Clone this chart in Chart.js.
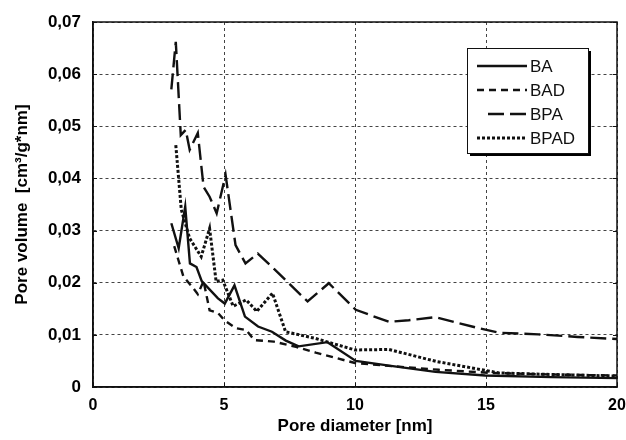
<!DOCTYPE html>
<html>
<head>
<meta charset="utf-8">
<script src="https://cdn.jsdelivr.net/npm/chart.js@4.4.1/dist/chart.umd.min.js"></script>
<style>
  html, body { margin: 0; padding: 0; background: #fff; }
  #wrap { width: 626px; height: 440px; }
</style>
</head>
<body>
<div id="wrap"><canvas id="poreChart"></canvas></div>
<script>
/*
  Pore size distribution: four samples.
*/
const baX = [2.99, 3.27, 3.52, 3.7, 3.95, 4.15, 4.77, 5.03, 5.4, 5.8, 6.3, 6.83, 7.36, 7.85, 8.95, 10.03, 11.3, 13.07, 14.97, 17.5, 20];
const baY = [0.0314, 0.0266, 0.0346, 0.0237, 0.023, 0.0203, 0.017, 0.016, 0.0195, 0.0135, 0.0116, 0.0106, 0.0089, 0.0078, 0.0086, 0.005, 0.0041, 0.0029, 0.0022, 0.0019, 0.0017];

const badX = [3.1, 3.25, 3.45, 3.85, 4.0, 4.22, 4.45, 4.77, 5.02, 5.45, 5.85, 6.15, 6.9, 7.75, 8.5, 10.0, 11.4, 13.2, 15.2, 17.5, 20];
const badY = [0.027, 0.0245, 0.0212, 0.0188, 0.0178, 0.0203, 0.0147, 0.0142, 0.0128, 0.0113, 0.0109, 0.009, 0.0087, 0.0077, 0.0066, 0.0046, 0.004, 0.0033, 0.0027, 0.0024, 0.0022];

const bpaX = [2.99, 3.16, 3.35, 3.54, 3.69, 4.0, 4.22, 4.45, 4.72, 5.06, 5.44, 5.82, 6.29, 6.92, 8.19, 9.0, 10.03, 11.29, 12.05, 13.07, 14.7, 15.5, 17, 18.5, 20];
const bpaY = [0.0571, 0.0662, 0.0483, 0.0493, 0.0455, 0.0487, 0.0384, 0.0365, 0.0333, 0.0407, 0.0272, 0.0237, 0.0256, 0.0226, 0.0164, 0.0199, 0.0148, 0.0125, 0.0128, 0.0134, 0.0113, 0.0104, 0.0101, 0.0096, 0.0092];

const bpadX = [3.16, 3.37, 3.69, 4.13, 4.45, 4.7, 4.95, 5.35, 5.85, 6.25, 6.85, 7.35, 8.5, 10.0, 11.3, 13.1, 15.5, 17.5, 20];
const bpadY = [0.0464, 0.034, 0.0285, 0.025, 0.0304, 0.0202, 0.0205, 0.0155, 0.0167, 0.0145, 0.018, 0.0106, 0.0093, 0.0071, 0.0072, 0.0049, 0.0027, 0.0024, 0.0021];

const seriesLabels = ["BA", "BAD", "BPA", "BPAD"];
const xTicks = [0, 5, 10, 15, 20];
const yTicks = [0, 0.01, 0.02, 0.03, 0.04, 0.05, 0.06, 0.07];

const INK = "#111";
const FAMILY = "'Liberation Sans', Arial, sans-serif";

function toPoints(xs, ys) {
  return xs.map((x, i) => ({ x: x, y: ys[i] }));
}

function lineSet(label, xs, ys, dash, width) {
  return {
    label: label,
    data: toPoints(xs, ys),
    borderColor: INK,
    backgroundColor: INK,
    borderWidth: width,
    borderDash: dash,
    borderCapStyle: "butt",
    borderJoinStyle: "miter",
    pointRadius: 0,
    tension: 0,
    fill: false,
  };
}

// closes the frame on top/right and adds the short inner tick marks
const framePlugin = {
  id: "frame",
  afterDatasetsDraw(chart) {
    const { ctx, chartArea: a, scales } = chart;
    ctx.save();
    ctx.strokeStyle = INK;
    ctx.lineWidth = 1.5;
    ctx.setLineDash([]);
    ctx.strokeRect(a.left, a.top, a.right - a.left, a.bottom - a.top);
    ctx.lineWidth = 1;
    yTicks.forEach((v) => {
      const y = Math.round(scales.y.getPixelForValue(v)) + 0.5;
      ctx.beginPath();
      ctx.moveTo(a.left, y); ctx.lineTo(a.left + 4, y);
      ctx.moveTo(a.right, y); ctx.lineTo(a.right - 4, y);
      ctx.stroke();
    });
    xTicks.forEach((v) => {
      const x = Math.round(scales.x.getPixelForValue(v)) + 0.5;
      ctx.beginPath();
      ctx.moveTo(x, a.bottom); ctx.lineTo(x, a.bottom - 4);
      ctx.stroke();
    });
    ctx.restore();
  },
};

// boxed legend with shadow, placed inside the plot
const boxLegendPlugin = {
  id: "boxLegend",
  afterDraw(chart) {
    const { ctx } = chart;
    const left = 467, top = 48, w = 121, h = 105;
    ctx.save();
    ctx.fillStyle = "#000";
    ctx.fillRect(left + 3, top + 3, w, h);
    ctx.fillStyle = "#fff";
    ctx.fillRect(left, top, w, h);
    ctx.strokeStyle = INK;
    ctx.lineWidth = 1;
    ctx.strokeRect(left + 0.5, top + 0.5, w, h);
    ctx.font = "17px " + FAMILY;
    ctx.textBaseline = "middle";
    chart.data.datasets.forEach((ds, i) => {
      const y = 66 + i * 24;
      ctx.strokeStyle = ds.borderColor;
      ctx.lineWidth = ds.borderWidth;
      ctx.setLineDash(ds.borderDash || []);
      ctx.beginPath();
      const x0 = i === 2 ? 488 : 477;
      ctx.moveTo(x0, y);
      ctx.lineTo(527, y);
      ctx.stroke();
      ctx.setLineDash([]);
      ctx.fillStyle = INK;
      ctx.fillText(ds.label, 530, y + 1);
    });
    ctx.restore();
  },
};

const xTickFont = { family: FAMILY, size: 16, weight: "bold" };
const yTickFont = { family: FAMILY, size: 17, weight: "bold" };
const titleFont = { family: FAMILY, size: 17, weight: "bold" };
const gridLook = {
  color: "#444",
  lineWidth: 1,
  drawTicks: false,
  tickLength: 0,
};

document.addEventListener("DOMContentLoaded", () => {
  new Chart(document.getElementById("poreChart"), {
    type: "line",
    data: {
      datasets: [
        lineSet(seriesLabels[0], baX, baY, [], 2.4),
        lineSet(seriesLabels[1], badX, badY, [7, 5], 2.4),
        lineSet(seriesLabels[2], bpaX, bpaY, [16, 6], 2.4),
        lineSet(seriesLabels[3], bpadX, bpadY, [3, 2], 3),
      ],
    },
    options: {
      responsive: true,
      maintainAspectRatio: false,
      animation: false,
      layout: { padding: { top: 22, right: 9, left: 0, bottom: 0 } },
      plugins: {
        legend: { display: false },
        tooltip: { enabled: false },
      },
      scales: {
        x: {
          type: "linear",
          min: 0,
          max: 20,
          afterBuildTicks: (scale) => { scale.ticks = xTicks.map((v) => ({ value: v })); },
          ticks: {
            color: "#000",
            font: xTickFont,
            padding: 9,
            maxRotation: 0,
            callback: (v) => String(v),
          },
          grid: gridLook,
          border: { display: true, color: INK, width: 1.5, dash: [3, 3] },
          title: {
            display: true,
            text: "Pore diameter [nm]",
            color: "#000",
            font: titleFont,
            padding: { top: 0, bottom: 3 },
          },
          afterFit: (scale) => {
            scale.height = 53;
            scale.paddingLeft = 0;
            scale.paddingRight = 0;
          },
        },
        y: {
          min: 0,
          max: 0.07,
          afterBuildTicks: (scale) => { scale.ticks = yTicks.map((v) => ({ value: v })); },
          ticks: {
            color: "#000",
            font: yTickFont,
            padding: 12,
            callback: (v) => (v === 0 ? "0" : v.toFixed(2).replace(".", ",")),
          },
          grid: gridLook,
          border: { display: true, color: INK, width: 1.5, dash: [3, 3] },
          title: {
            display: true,
            text: "Pore volume  [cm³/g*nm]",
            color: "#000",
            font: titleFont,
            padding: { top: 12, bottom: 0 },
          },
          afterFit: (scale) => {
            scale.width = 93;
            scale.paddingTop = 0;
            scale.paddingBottom = 0;
          },
        },
      },
    },
    plugins: [framePlugin, boxLegendPlugin],
  });
});
</script>
</body>
</html>
